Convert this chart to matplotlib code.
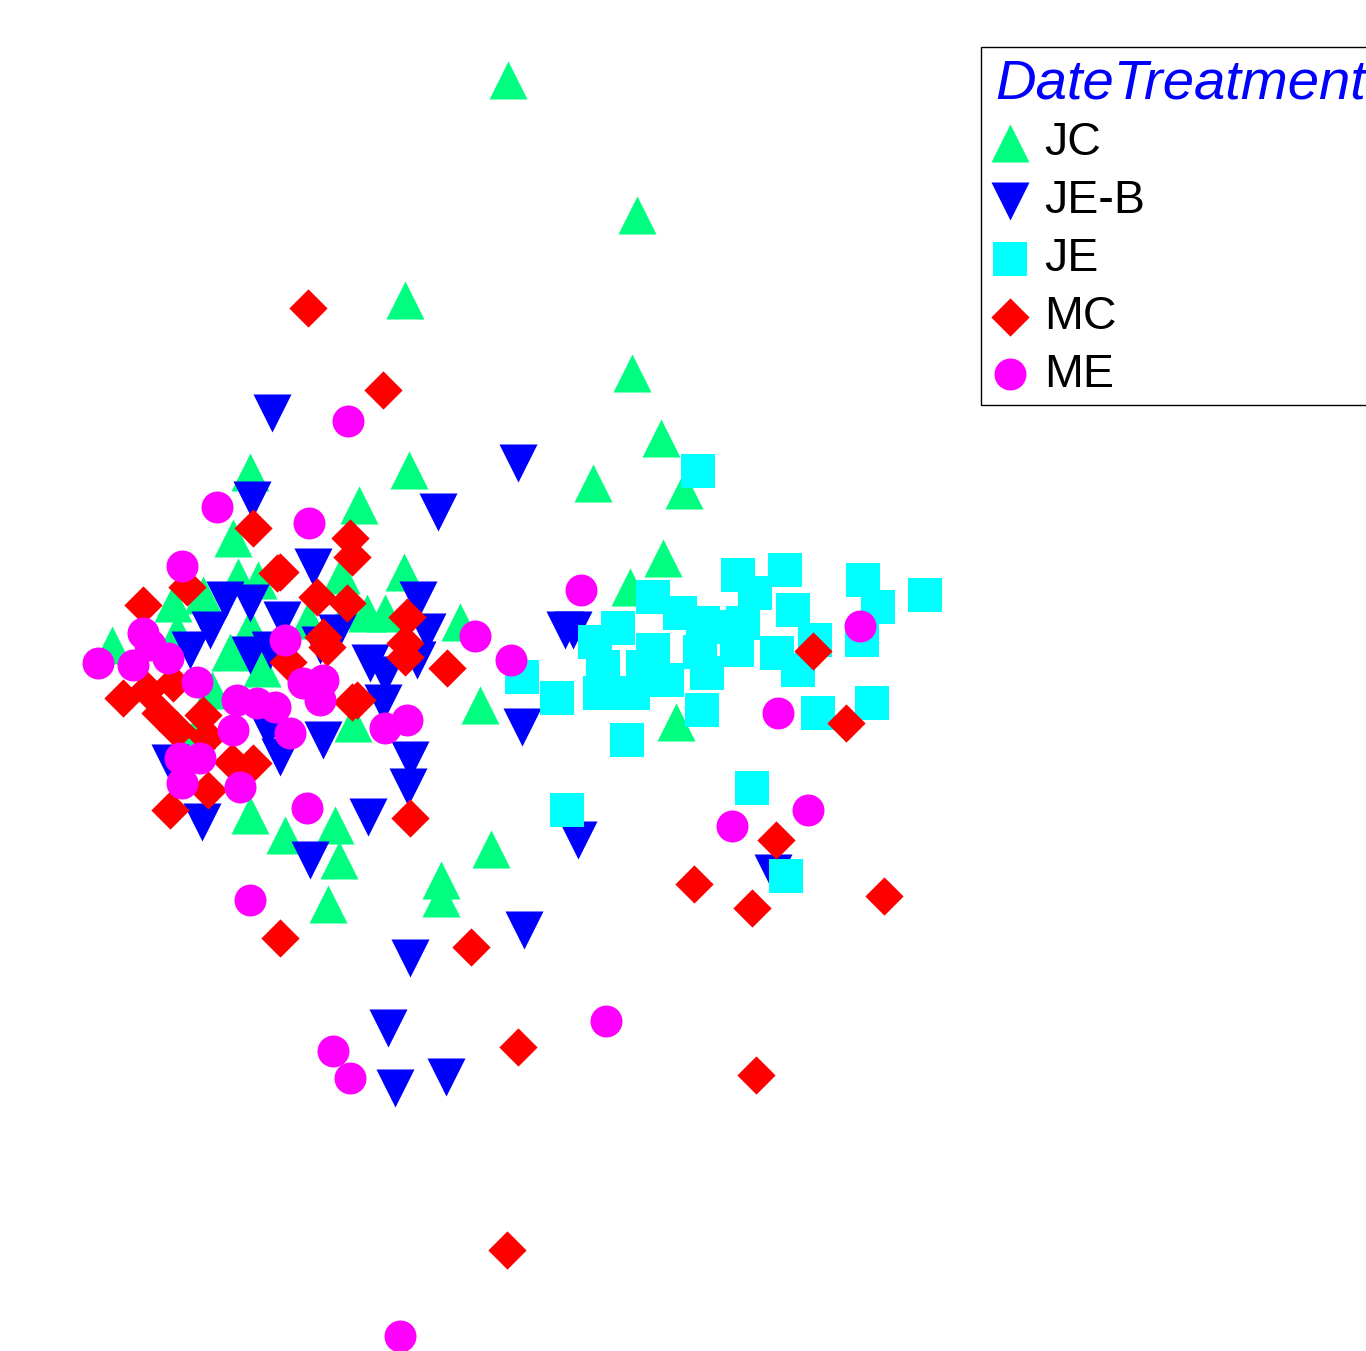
import matplotlib
matplotlib.use('Agg')
from matplotlib import pyplot as plt

plt.rcParams['font.family'] = ['Liberation Sans', 'DejaVu Sans']

# ordination scores per treatment (plot units, y grows downward)
jc_x = [508, 637, 405, 632, 661, 593, 684, 409, 250, 359, 233, 663, 404, 341, 238, 258, 630, 173, 203, 367, 385,
        347, 308, 460, 112, 177, 250, 230, 262, 212, 197, 480, 676, 353, 250, 285, 335, 339, 491, 441, 441, 328]
jc_y = [80, 215, 300, 373, 438, 483, 490, 470, 472, 505, 538, 558, 572, 575, 577, 580, 587, 603, 595, 613, 613,
        610, 620, 622, 645, 632, 627, 652, 668, 690, 730, 705, 722, 723, 815, 835, 825, 860, 849, 880, 898, 904]

jeb_x = [272, 518, 438, 252, 313, 418, 250, 225, 282, 210, 190, 427, 417, 565, 573, 337, 320, 370, 385, 250, 270,
         522, 383, 268, 280, 323, 170, 410, 408, 368, 202, 310, 578, 773, 524, 410, 388, 395, 446]
jeb_y = [413, 463, 512, 500, 567, 600, 603, 600, 620, 630, 650, 632, 660, 630, 630, 633, 645, 663, 675, 655, 650,
         727, 703, 730, 757, 740, 763, 760, 787, 817, 822, 860, 840, 873, 930, 958, 1028, 1088, 1077]

je_x = [698, 738, 785, 755, 793, 743, 713, 777, 798, 815, 863, 878, 925, 862, 818, 872, 702, 707, 737, 653, 680,
        618, 703, 700, 653, 595, 603, 600, 633, 667, 643, 557, 522, 627, 567, 752, 786]
je_y = [471, 575, 570, 593, 610, 623, 627, 653, 670, 640, 580, 607, 595, 640, 713, 703, 710, 673, 650, 597, 613,
        628, 623, 652, 650, 642, 667, 693, 693, 680, 667, 698, 677, 740, 810, 788, 876]

mc_x = [308, 383, 253, 350, 352, 280, 317, 347, 143, 187, 277, 323, 405, 407, 405, 447, 327, 288, 813, 846, 123,
        147, 173, 160, 177, 203, 207, 232, 253, 208, 170, 352, 357, 410, 776, 694, 752, 884, 280, 471, 518, 756, 507]
mc_y = [308, 390, 528, 538, 557, 572, 597, 603, 605, 587, 573, 637, 643, 617, 657, 668, 647, 662, 651, 723, 698,
        690, 683, 713, 730, 715, 737, 762, 763, 790, 810, 702, 700, 818, 840, 884, 908, 896, 938, 947, 1047, 1075, 1250]

me_x = [348, 217, 309, 182, 143, 98, 133, 168, 150, 197, 237, 257, 233, 180, 200, 182, 240, 285, 303, 323, 320,
        275, 290, 385, 407, 475, 511, 581, 860, 778, 307, 732, 808, 250, 606, 333, 350, 400]
me_y = [421, 507, 523, 566, 633, 663, 665, 658, 645, 682, 700, 703, 730, 758, 758, 783, 787, 640, 683, 680, 700,
        707, 733, 728, 720, 636, 660, 590, 626, 713, 808, 826, 810, 900, 1021, 1051, 1078, 1336]

fig = plt.figure(figsize=(13.66, 13.51), dpi=100)
ax = fig.add_axes([0, 0, 1, 1])

ax.scatter(jc_x, jc_y, marker='^', s=750, c='#00FF80', linewidths=0, label='JC', zorder=2)
ax.scatter(jeb_x, jeb_y, marker='v', s=750, c='#0000FF', linewidths=0, label='JE-B', zorder=3)
ax.scatter(je_x, je_y, marker='s', s=570, c='#00FFFF', linewidths=0, label='JE', zorder=4)
ax.scatter(mc_x, mc_y, marker='D', s=380, c='#FF0000', linewidths=0, label='MC', zorder=5)
ax.scatter(me_x, me_y, marker='o', s=530, c='#FF00FF', linewidths=0, label='ME', zorder=6)

ax.set_xlim(0, 1366)
ax.set_ylim(1351, 0)
ax.axis('off')

leg = ax.legend(title='DateTreatment', loc='upper left', bbox_to_anchor=(981 / 1366, 1 - 47 / 1351),
                bbox_transform=fig.transFigure, borderaxespad=0, fontsize=33.5, title_fontsize=40.5,
                labelspacing=0.3, handlelength=0.9, handletextpad=0.29, borderpad=0.17,
                alignment='left', fancybox=False, framealpha=1, edgecolor='black')
leg.get_frame().set_linewidth(1)
title = leg.get_title()
title.set_color('#0000FF')
title.set_style('italic')
# nudge the title a little right and down inside its box
title.set_position((6, -4))

plt.savefig('out.png', dpi=100)
